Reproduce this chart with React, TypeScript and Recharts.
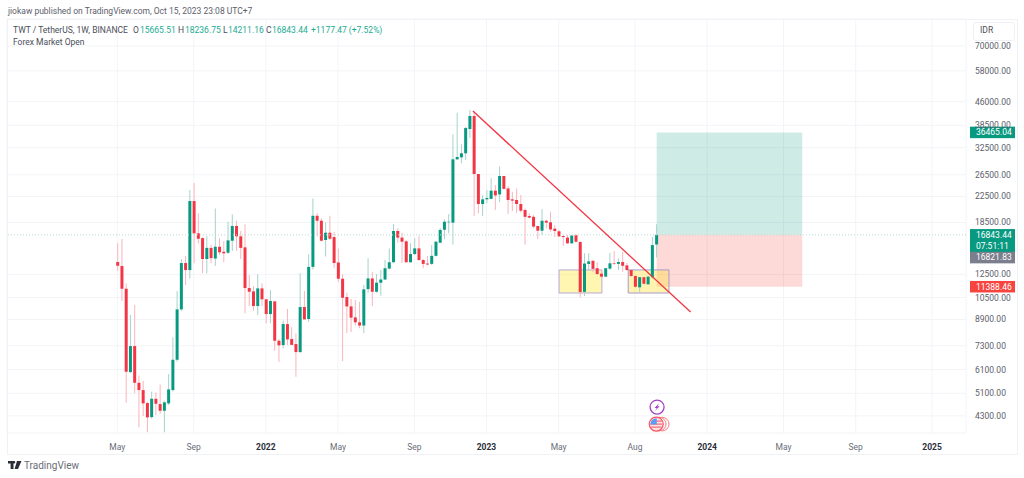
import { Bar, CartesianGrid, Cell, ComposedChart, ReferenceArea, ReferenceDot, ReferenceLine, XAxis, YAxis } from "recharts";

// weekly TWT candles, one slot per week starting May 2021
const opens = [
  13723, 13316, 11220, 5985, 7282, 5521, 5225, 4737, 4262, 4893,
  4701, 4470, 4726, 5225, 6567, 9602, 13620, 12920, 21744, 17043,
  16430, 14038, 15270, 14090, 15400, 14830, 14725, 16115, 18007, 16660,
  15330, 11280, 11000, 9848, 11250, 10360, 9270, 10200, 7579, 7337,
  8597, 7677, 7393, 6959, 9773, 8930, 13230, 19453, 18740, 16201,
  17120, 16565, 13680, 12100, 10540, 9820, 9040, 8710, 8500, 11190,
  12125, 10969, 11740, 12030, 13060, 13700, 17340, 16500, 16040, 13700,
  14577, 15210, 13932, 13570, 13530, 14380, 15880, 17510, 18520, 18470,
  29780, 30230, 31160, 37430, 41290, 26656, 21257, 22020, 22100, 23510,
  22850, 26258, 23900, 22020, 21908, 21257, 20316, 19418, 19300, 18007,
  17380, 18740, 18520, 17650, 17300, 16705, 16500, 15804, 16800, 15960,
  10960, 13530, 13860, 13100, 12570, 12290, 13060, 13590, 13530, 13723,
  13380, 12920, 12349, 11340, 12240, 11600, 12240, 15665.51,
];
const highs = [
  15804, 16325, 11687, 9200, 9922, 5836, 5605, 4783, 5159, 5135,
  5454, 4820, 5895, 7776, 11027, 14038, 14360, 23625, 24905, 19818,
  16570, 16660, 15600, 20560, 16430, 16080, 18600, 19665, 18740, 17340,
  18237, 12442, 11460, 12510, 11687, 10380, 11110, 10226, 7660, 8814,
  9627, 8390, 8015, 12603, 11027, 14540, 22172, 19818, 19080, 18520,
  19453, 17240, 15210, 12510, 10890, 10380, 10303, 10170, 11537, 14130,
  12760, 12536, 12920, 13932, 15210, 18280, 17700, 17120, 16201, 15804,
  16430, 16705, 14030, 14360, 15600, 16115, 17740, 18930, 19720, 36000,
  42300, 33370, 37970, 43200, 42700, 26656, 22750, 23625, 25800, 24550,
  28200, 26258, 24340, 23320, 23900, 22750, 20560, 19818, 19560, 18007,
  20470, 18840, 20070, 18150, 17471, 16800, 16830, 16830, 16890, 16040,
  14655, 14655, 13860, 13700, 12920, 13140, 14725, 14910, 14130, 14830,
  13620, 12920, 12400, 12240, 12240, 12349, 16570, 18236.75,
];
const lows = [
  12853, 10226, 4748, 5927, 5097, 3944, 4294, 3800, 4208, 4327,
  4360, 3800, 4666, 5174, 6469, 9482, 11537, 12125, 13590, 15804,
  12603, 12603, 13590, 13316, 14470, 13700, 14577, 14910, 14950, 14030,
  9320, 9848, 9500, 9200, 9848, 8643, 8643, 7030, 6469, 7150,
  7337, 7337, 5772, 6925, 8905, 8750, 12980, 16660, 16040, 14310,
  16201, 13100, 11830, 6500, 8040, 8090, 8500, 8330, 8015, 10890,
  9848, 10890, 10640, 11981, 12980, 13680, 15880, 13620, 13680, 13680,
  14470, 13860, 13100, 13380, 13420, 14310, 15804, 16320, 17043, 15640,
  29625, 28910, 29625, 35000, 19418, 19818, 19453, 21380, 22020, 20316,
  21540, 23730, 19720, 20160, 19900, 19950, 15640, 19080, 17700, 16325,
  16830, 17700, 17240, 16570, 16570, 15485, 15720, 15720, 15880, 10510,
  10620, 12920, 12700, 12442, 12240, 12240, 12920, 13420, 12920, 12760,
  12853, 12290, 11300, 10969, 11600, 11560, 12125, 14211.16,
];
const closes = [
  13344, 11220, 5999, 7282, 5521, 5225, 4726, 4253, 4893, 4712,
  4470, 4762, 5251, 6567, 9602, 13620, 12920, 21744, 17043, 16362,
  14038, 15270, 14130, 15400, 14765, 14655, 16160, 18007, 16660, 15270,
  11280, 10969, 9848, 11250, 10360, 9270, 10226, 7579, 7322, 8597,
  7657, 7347, 6959, 9773, 8905, 13230, 19453, 18740, 16115, 17120,
  16362, 13620, 12100, 10480, 9820, 9020, 8710, 8500, 11170, 12125,
  10969, 11740, 12030, 13100, 13700, 17340, 16500, 16000, 13700, 14577,
  15210, 13932, 13530, 13470, 14380, 16000, 17471, 18600, 18600, 29780,
  30300, 31160, 37700, 41290, 26656, 21257, 22020, 22240, 23510, 22680,
  26258, 23830, 21908, 21800, 21257, 20210, 19300, 19180, 17930, 17380,
  18740, 18470, 17550, 17340, 16660, 16565, 15804, 16750, 16000, 10940,
  13570, 13790, 13030, 12536, 12290, 13100, 13590, 13530, 13723, 13344,
  12920, 12349, 11388, 12240, 11650, 12290, 15600, 16843.44,
];

const priceTicks = [70000, 58000, 46000, 38500, 32500, 26500, 22500, 18500, 12500, 10500, 8900, 7300, 6100, 5100, 4300];
const timeWeeks = [0, 18, 35, 52, 70, 87, 104, 122, 139, 157, 174, 192];
const timeLabels = ["May", "Sep", "2022", "May", "Sep", "2023", "May", "Aug", "2024", "May", "Sep", "2025"];

const lastClose = 16843.44;
const targetPrice = 36465.04;
const stopPrice = 11388.46;
const prevPrice = 16821.83;
const tradeWeeks = [127.1, 161.4];
const zoneHigh = 12930;
const zoneLow = 10866;
const zoneOneWeeks = [104.1, 114.2];
const zoneTwoWeeks = [120.4, 130];
const trendStart = { week: 83.8, price: 42870 };
const trendEnd = { week: 135.1, price: 9413 };

const UP = "#089981";
const DOWN = "#f23645";
const UP_WICK = "#a5d3ca";
const DOWN_WICK = "#f9b4bc";
const FONT = "Roboto, sans-serif";

const rows = opens.map((o, i) => ({
  week: i,
  wick: [lows[i], highs[i]],
  body: [Math.min(o, closes[i]), Math.max(o, closes[i])],
  up: closes[i] >= o,
}));

const weekDomain = [-26, 200];

function TimeTick({ x, y, payload }: any) {
  const label = timeLabels[timeWeeks.indexOf(payload.value)];
  const year = /^\d+$/.test(label);
  return (
    <text x={x} y={y + 9} textAnchor="middle" fontSize={8.5} fontFamily={FONT} fontWeight={year ? 700 : 400} fill={year ? "#2a2e39" : "#6a6d78"}>
      {label}
    </text>
  );
}

function priceTag(lines: string[], fill: string, shift = 0) {
  return ({ cx, cy }: any) => {
    const h = lines.length * 11.5;
    const top = cy - 5.8 + shift;
    return (
      <g>
        <rect x={cx + 4} y={top} width={45} height={h} fill={fill} />
        {lines.map((t, i) => (
          <text key={t} x={cx + 10} y={top + 8.6 + i * 11.5} fontSize={8.5} fontFamily={FONT} fill="#fff">
            {t}
          </text>
        ))}
      </g>
    );
  };
}

function BoltIcon({ cx, cy }: any) {
  return (
    <g>
      <circle cx={cx} cy={cy} r={7} fill="#fff" stroke="#a73fc7" strokeWidth={1.3} />
      <path d={`M${cx + 2} ${cy - 4} L${cx - 2.5} ${cy + 0.8} L${cx - 0.3} ${cy + 0.8} L${cx - 2} ${cy + 4} L${cx + 2.5} ${cy - 0.8} L${cx + 0.3} ${cy - 0.8} Z`} fill="#a73fc7" />
    </g>
  );
}

function FlagIcon({ cx, cy }: any) {
  return (
    <g>
      <circle cx={cx + 6} cy={cy} r={6.8} fill="#fff" stroke="#f77c80" strokeWidth={1} />
      <circle cx={cx + 3} cy={cy} r={6.8} fill="#fff" stroke="#f77c80" strokeWidth={1} />
      <circle cx={cx} cy={cy} r={7} fill="#fde3e4" stroke="#f7525f" strokeWidth={1.2} />
      <path d={`M${cx - 5} ${cy - 3} H${cx + 5.5} M${cx - 6} ${cy} H${cx + 6} M${cx - 5} ${cy + 3} H${cx + 5}`} stroke="#f7525f" strokeWidth={1} />
      <path d={`M${cx - 5.8} ${cy + 0.5} A6 6 0 0 1 ${cx + 0.5} ${cy - 5.8} V${cy + 0.5} Z`} fill="#5b9cf6" />
    </g>
  );
}

function Legend() {
  const teal = "#22ab94";
  const item = (left: number, text: string, color = "#4a4e5a") => (
    <span style={{ position: "absolute", left, top: 25, color, whiteSpace: "nowrap" }}>{text}</span>
  );
  return (
    <div style={{ position: "absolute", left: 0, top: 0, width: 1024, height: 478, fontFamily: FONT, fontSize: 8.5, lineHeight: "11px", pointerEvents: "none" }}>
      <span style={{ position: "absolute", left: 8, top: 6, color: "#5d606b", whiteSpace: "nowrap" }}>jiokaw published on TradingView.com, Oct 15, 2023 23:08 UTC+7</span>
      {item(13, "TWT / TetherUS, 1W, BINANCE")}
      {item(133, "O")}
      {item(140, "15665.51", teal)}
      {item(178, "H")}
      {item(185, "18236.75", teal)}
      {item(223, "L")}
      {item(228, "14211.16", teal)}
      {item(266, "C")}
      {item(272, "16843.44", teal)}
      {item(311, "+1177.47 (+7.52%)", teal)}
      <span style={{ position: "absolute", left: 13, top: 37, color: "#4a4e5a", whiteSpace: "nowrap" }}>Forex Market Open</span>
      <div style={{ position: "absolute", left: 973, top: 22, width: 40, height: 17, border: "1px solid #eef0f5", borderRadius: 3, background: "#fff" }} />
      <span style={{ position: "absolute", left: 980, top: 25, color: "#4a4e5a" }}>IDR</span>
      <svg style={{ position: "absolute", left: 8, top: 461 }} width={14} height={9}>
        <path d="M0 0 H5.5 V8 H2.6 V2.6 H0 Z M6 0 A1.3 1.3 0 1 1 6 2.6 A1.3 1.3 0 1 1 6 0 Z M9 0 H13.5 L10 8 H6.6 Z" fill="#2a2e39" />
      </svg>
      <span style={{ position: "absolute", left: 24, top: 460, fontSize: 10, lineHeight: "12px", color: "#6a6d78", whiteSpace: "nowrap" }}>TradingView</span>
    </div>
  );
}

export default function App() {
  return (
    <div style={{ position: "absolute", left: 0, top: 0, width: 1024, height: 478, background: "#fff", overflow: "hidden" }}>
      <div style={{ position: "absolute", left: 7, top: 19, width: 1009, height: 434, border: "1px solid #f0f1f4" }} />
      <ComposedChart width={1024} height={478} data={rows} margin={{ top: 19, right: 8, bottom: 25, left: 7 }} style={{ position: "absolute", left: 0, top: 0 }}>
        <CartesianGrid stroke="#f3f4f8" />
        <XAxis dataKey="week" type="number" domain={weekDomain} ticks={timeWeeks} interval={0} height={20} axisLine={false} tickLine={false} tick={<TimeTick />} allowDataOverflow />
        <XAxis xAxisId="wicks" dataKey="week" type="number" domain={weekDomain} hide allowDataOverflow />
        <YAxis
          orientation="right"
          scale="log"
          domain={[3780, 85800]}
          ticks={priceTicks}
          interval={0}
          width={50}
          allowDataOverflow
          axisLine={false}
          tickLine={false}
          tickSize={0}
          tickMargin={9}
          tickFormatter={(v: number) => v.toFixed(2)}
          tick={{ fontSize: 8.5, fontFamily: FONT, fill: "#5d606b" }}
        />

        <ReferenceLine y={lastClose} stroke="#b5dcd6" strokeDasharray="1 2" />
        <ReferenceArea x1={tradeWeeks[0]} x2={tradeWeeks[1]} y1={lastClose} y2={targetPrice} fill={UP} fillOpacity={0.2} stroke="none" />
        <ReferenceArea x1={tradeWeeks[0]} x2={tradeWeeks[1]} y1={stopPrice} y2={lastClose} fill="#f44336" fillOpacity={0.2} stroke="none" />
        <ReferenceArea x1={zoneOneWeeks[0]} x2={zoneOneWeeks[1]} y1={zoneLow} y2={zoneHigh} fill="#ffeb3b" fillOpacity={0.4} stroke="#b8a9d9" />
        <ReferenceArea x1={zoneTwoWeeks[0]} x2={zoneTwoWeeks[1]} y1={zoneLow} y2={zoneHigh} fill="#ffe03b" fillOpacity={0.4} stroke="#a898cf" />

        <Bar xAxisId="wicks" dataKey="wick" barSize={1} isAnimationActive={false}>
          {rows.map((r) => (
            <Cell key={r.week} fill={r.up ? UP_WICK : DOWN_WICK} />
          ))}
        </Bar>
        <Bar dataKey="body" barSize={3} isAnimationActive={false}>
          {rows.map((r) => (
            <Cell key={r.week} fill={r.up ? UP : DOWN} />
          ))}
        </Bar>

        <ReferenceLine
          segment={[
            { x: trendStart.week, y: trendStart.price },
            { x: trendEnd.week, y: trendEnd.price },
          ]}
          stroke={DOWN}
          strokeWidth={1.3}
        />

        <ReferenceDot x={200} y={targetPrice} r={0} shape={priceTag(["36465.04"], UP)} />
        <ReferenceDot x={200} y={lastClose} r={0} shape={priceTag(["16843.44", "07:51:11"], UP)} />
        <ReferenceDot x={200} y={prevPrice} r={0} shape={priceTag(["16821.83"], "#7b7e8c", 22.6)} />
        <ReferenceDot x={200} y={stopPrice} r={0} shape={priceTag(["11388.46"], "#f7443f")} />
        <ReferenceDot x={127.2} y={4596} r={0} shape={<BoltIcon />} />
        <ReferenceDot x={127} y={4043} r={0} shape={<FlagIcon />} />
      </ComposedChart>
      <Legend />
    </div>
  );
}
